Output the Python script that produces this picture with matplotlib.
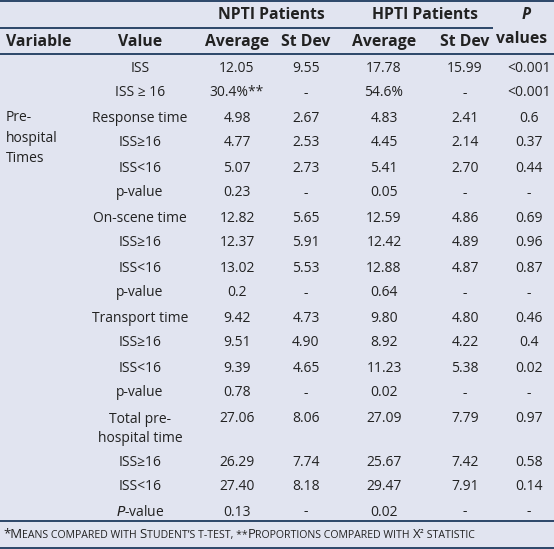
import matplotlib
matplotlib.use("Agg")
import matplotlib.pyplot as plt

# ---------------- data ----------------
variable_label = "Pre-\nhospital\nTimes"
values = ["ISS", "ISS ≥ 16", "Response time", "ISS≥16", "ISS<16", "p-value",
          "On-scene time", "ISS≥16", "ISS<16", "p-value",
          "Transport time", "ISS≥16", "ISS<16", "p-value",
          "Total pre-\nhospital time", "ISS≥16", "ISS<16", "$\\mathit{P}$-value"]
npti_avg = ["12.05", "30.4%**", "4.98", "4.77", "5.07", "0.23", "12.82", "12.37", "13.02", "0.2",
            "9.42", "9.51", "9.39", "0.78", "27.06", "26.29", "27.40", "0.13"]
npti_sd = ["9.55", "-", "2.67", "2.53", "2.73", "-", "5.65", "5.91", "5.53", "-",
           "4.73", "4.90", "4.65", "-", "8.06", "7.74", "8.18", "-"]
hpti_avg = ["17.78", "54.6%", "4.83", "4.45", "5.41", "0.05", "12.59", "12.42", "12.88", "0.64",
            "9.80", "8.92", "11.23", "0.02", "27.09", "25.67", "29.47", "0.02"]
hpti_sd = ["15.99", "-", "2.41", "2.14", "2.70", "-", "4.86", "4.89", "4.87", "-",
           "4.80", "4.22", "5.38", "-", "7.79", "7.42", "7.91", "-"]
p_values = ["<0.001", "<0.001", "0.6", "0.37", "0.44", "-", "0.69", "0.96", "0.87", "-",
            "0.46", "0.4", "0.02", "-", "0.97", "0.58", "0.14", "-"]
group_headers = ["NPTI Patients", "HPTI Patients"]
col_headers = ["Variable", "Value", "Average", "St Dev", "Average", "St Dev"]
footer_pieces = [("*M", True), ("EANS COMPARED WITH ", False), ("S", True),
                 ("TUDENT’S T-TEST, **", False), ("P", True), ("ROPORTIONS COMPARED WITH ", False),
                 ("X", True), ("²", False), (" STATISTIC", False)]

# ---------------- style ----------------
W, H = 554, 549
BG = "#E1E4F0"
LINE = "#1D3A5E"
TXT = "#222222"
FONT = "Open Sans"

fig = plt.figure(figsize=(W / 100, H / 100), dpi=100, facecolor=BG)
ax = fig.add_axes([0, 0, 1, 1])
ax.set_xlim(0, W)
ax.set_ylim(H, 0)
ax.axis("off")
ax.set_facecolor(BG)

col_x = [6, 140, 237, 306, 384, 465, 529]
body_fs = 10.0
head_fs = 11.3

# horizontal rules
for y, x0, x1 in [(1, 0, W), (27.7, 0, 493), (53.5, 0, W), (520.7, 0, W), (547.5, 0, W)]:
    ax.plot([x0, x1], [y, y], color=LINE, lw=1.3, solid_capstyle="butt")

# header row 1
ax.text((col_x[2] + col_x[3]) / 2, 15, group_headers[0], ha="center", va="center",
        fontsize=head_fs, fontweight="bold", family=FONT, color=TXT)
ax.text((col_x[4] + col_x[5]) / 2, 15, group_headers[1], ha="center", va="center",
        fontsize=head_fs, fontweight="bold", family=FONT, color=TXT)
ax.text(526, 15, "P", ha="center", va="center", fontsize=head_fs, fontweight="bold",
        fontstyle="italic", family=FONT, color=TXT)
ax.text(522, 39, "values", ha="center", va="center", fontsize=head_fs, fontweight="bold",
        family=FONT, color=TXT)

# header row 2
for i, h in enumerate(col_headers):
    ax.text(col_x[i], 42, h, ha="left" if i == 0 else "center", va="center",
            fontsize=head_fs, fontweight="bold", family=FONT, color=TXT)

# body rows
row_y = []
y = 68
for i, v in enumerate(values):
    row_y.append(y)
    y += 44 if "\n" in v else 25

ax.text(col_x[0], 138, variable_label, ha="left", va="center", fontsize=body_fs,
        family=FONT, color=TXT, linespacing=1.5)

for i, v in enumerate(values):
    yy = row_y[i]
    if "\n" in v:
        ax.text(col_x[1], yy - 6, v, ha="center", va="top", fontsize=body_fs,
                family=FONT, color=TXT, linespacing=1.4)
    else:
        ax.text(col_x[1], yy, v, ha="center", va="center", fontsize=body_fs,
                family=FONT, color=TXT)
    for cx, arr in zip(col_x[2:], [npti_avg, npti_sd, hpti_avg, hpti_sd, p_values]):
        ax.text(cx, yy, arr[i], ha="center", va="center", fontsize=body_fs,
                family=FONT, color=TXT)

# footer in small caps
fig.canvas.draw()
renderer = fig.canvas.get_renderer()
x = 3
for txt, big in footer_pieces:
    t = ax.text(x, 538, txt, ha="left", va="baseline", fontsize=9.5 if big else 7.6,
                family=FONT, color=TXT)
    bb = t.get_window_extent(renderer)
    x = x + bb.width

fig.savefig("out.png", dpi=100, facecolor=BG)
